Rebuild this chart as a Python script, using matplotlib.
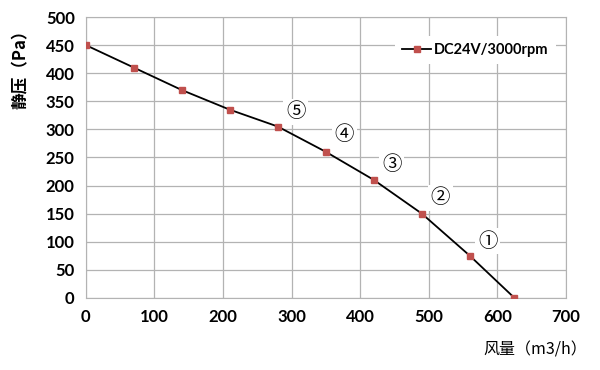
import matplotlib
matplotlib.use("Agg")
import matplotlib.pyplot as plt

plt.rcParams['font.family'] = ['Lato', 'Noto Sans CJK SC']

# 数据
flow = [0, 70, 140, 210, 280, 350, 420, 490, 560, 625]
pressure = [450, 410, 370, 335, 305, 260, 210, 150, 75, 0]
labels_txt = ['①', '②', '③', '④', '⑤']
labels_x = [586, 517, 446, 377, 306]
labels_y = [101, 178, 237, 290, 331]

fig = plt.figure(figsize=(6, 3.7), dpi=100)
ax = fig.add_axes([0.143, 0.195, 0.8, 0.759])

ax.plot(flow, pressure, color='black', lw=1.3, marker='s', markersize=4,
        markerfacecolor='#c0504d', markeredgecolor='#c0504d', label='DC24V/3000rpm', zorder=3)

for t, x, y in zip(labels_txt, labels_x, labels_y):
    ax.text(x, y, t, ha='center', va='center', fontsize=14,
            family=['Noto Sans CJK SC', 'DejaVu Sans'],
            bbox=dict(facecolor='white', edgecolor='none', pad=2), zorder=2)

ax.set_xlim(0, 700)
ax.set_ylim(0, 500)
ax.set_xticks(range(0, 701, 100))
ax.set_yticks(range(0, 501, 50))
ax.grid(True, color='#b3b3b3', lw=0.9)
ax.set_axisbelow(True)
ax.tick_params(length=0, labelsize=12, pad=8)
for lab in ax.get_xticklabels() + ax.get_yticklabels():
    lab.set_fontweight('bold')
for s in ax.spines.values():
    s.set_color('#b3b3b3')

leg = ax.legend(loc='upper right', bbox_to_anchor=(0.995, 0.96), frameon=True,
                fancybox=False, edgecolor='none', framealpha=1, fontsize=10.5,
                handlelength=2.0, handletextpad=0.2, borderpad=0.5)
for t in leg.get_texts():
    t.set_fontweight('bold')

fig.text(0.035, 0.824, '静压（Pa）', rotation=90, ha='center', va='center', fontsize=12,
         fontweight='bold', family=['Noto Sans CJK SC', 'DejaVu Sans'])
fig.text(0.892, 0.054, '风量（m3/h）', ha='center', va='center', fontsize=11.5,
         family=['Noto Sans CJK SC', 'DejaVu Sans'])

fig.savefig('out.png', dpi=100)
